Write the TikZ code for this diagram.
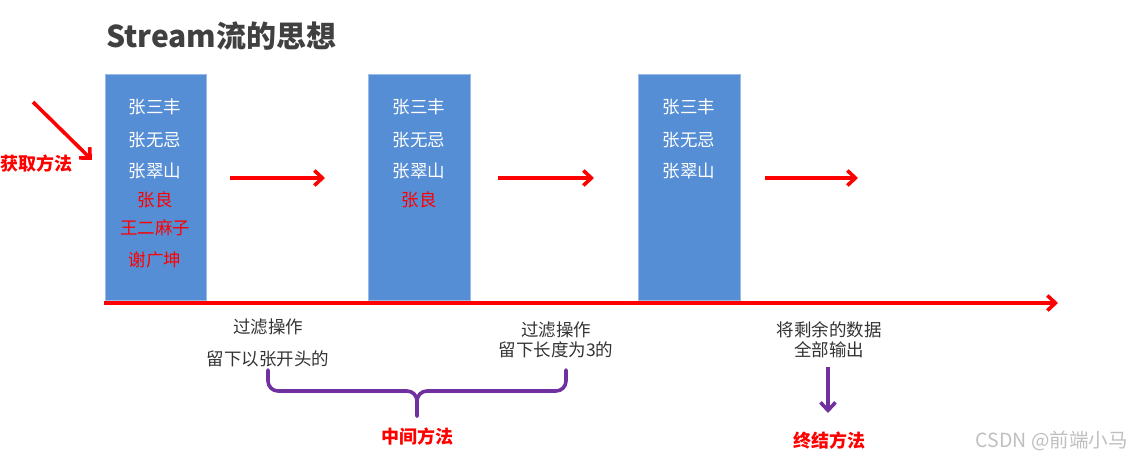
\documentclass[tikz,border=0pt]{standalone}
\usepackage{fontspec}
\setmainfont{Noto Sans CJK SC}
\usetikzlibrary{arrows.meta}

\definecolor{boxblue}{HTML}{558ED5}
\definecolor{titlegray}{HTML}{404040}
\definecolor{bracepurple}{HTML}{7030A0}

\newcommand*{\axisy}{303}
\newcommand*{\boxtop}{74}

\begin{document}
\begin{tikzpicture}
[
	x=1pt, y=-1pt,
	listbox/.style={fill=boxblue,draw=boxblue!60!white,line width=0.8pt},
	person/.style={text=white,font=\fontsize{17.5}{17.5}\selectfont,inner sep=0pt},
	dropped/.style={person,text=red},
	note/.style={text=black!80,font=\fontsize{17.5}{20}\selectfont,inner sep=0pt,align=center},
	kind/.style={text=red,font=\fontsize{18}{18}\selectfont\bfseries,inner sep=0pt},
	redarrow/.style={red,line width=3.6pt,-{Straight Barb[length=8pt,width=15pt]}},
	purplearrow/.style={bracepurple,line width=3.6pt,-{Straight Barb[length=8pt,width=15pt]}}
]
	\useasboundingbox (0,0) rectangle (1133,464);

	% title
	\node[anchor=west,text=titlegray,font=\fontsize{30}{30}\selectfont\bfseries,inner sep=0pt]
	  (title) at (106,36) {Stream流的思想};

	% boxes
	\fill[listbox] (105,\boxtop) rectangle (206,300);
	\fill[listbox] (368,\boxtop) rectangle (470,300);
	\fill[listbox] (638,\boxtop) rectangle (740,300);

	% first list
	\node[person] (a1) at (155,107) {张三丰};
	\node[person] (a2) at (155,140) {张无忌};
	\node[person] (a3) at (155,171) {张翠山};
	\node[dropped] (a4) at (155,200) {张良};
	\node[dropped] (a5) at (155,228) {王二麻子};
	\node[dropped] (a6) at (155,260) {谢广坤};

	% second list
	\node[person] (b1) at (419,107) {张三丰};
	\node[person] (b2) at (419,140) {张无忌};
	\node[person] (b3) at (419,171) {张翠山};
	\node[dropped] (b4) at (419,200) {张良};

	% third list
	\node[person] (c1) at (689,107) {张三丰};
	\node[person] (c2) at (689,140) {张无忌};
	\node[person] (c3) at (689,171) {张翠山};

	% arrows between the lists
	\coordinate (s1) at (230,178); \coordinate (e1) at (325,178);
	\coordinate (s2) at (498,178); \coordinate (e2) at (594,178);
	\coordinate (s3) at (765,178); \coordinate (e3) at (858,178);
	\draw[redarrow] (s1) -- (e1);
	\draw[redarrow] (s2) -- (e2);
	\draw[redarrow] (s3) -- (e3);

	% source
	\coordinate (src) at (33,102);
	\coordinate (srcend) at (92,160);
	\draw[redarrow] (src) -- (srcend);
	\node[kind] (get) at (37,164) {获取方法};

	% time line
	\coordinate (ax0) at (104,\axisy);
	\coordinate (ax1) at (1058,\axisy);
	\draw[redarrow] (ax0) -- (ax1);

	% notes
	\node[note] (f1a) at (268,327) {过滤操作};
	\node[note] (f1b) at (268,359) {留下以张开头的};
	\node[note] (f2) at (556,340) {过滤操作\\留下长度为3的};
	\node[note] (f3) at (829,340) {将剩余的数据\\全部输出};

	% brace
	\coordinate (bl) at (268,370);
	\coordinate (br) at (566,370);
	\coordinate (bm) at (417,416);
	\draw[bracepurple,line width=3.6pt,line cap=round,rounded corners=10pt]
	  (bl) -- (268,391) -- (417,391) -- (bm);
	\draw[bracepurple,line width=3.6pt,line cap=round,rounded corners=10pt]
	  (br) -- (566,391) -- (417,391) -- (bm);
	\node[kind] (mid) at (417,437) {中间方法};

	% terminal
	\coordinate (t0) at (828,367);
	\coordinate (t1) at (828,413);
	\draw[purplearrow] (t0) -- (t1);
	\node[kind] (end) at (829,441) {终结方法};

	% watermark
	\node[text=black!25,font=\fontsize{19.5}{19.5}\selectfont,inner sep=0pt,anchor=east]
	  (mark) at (1128,441) {CSDN @前端小马};

\end{tikzpicture}
\end{document}
